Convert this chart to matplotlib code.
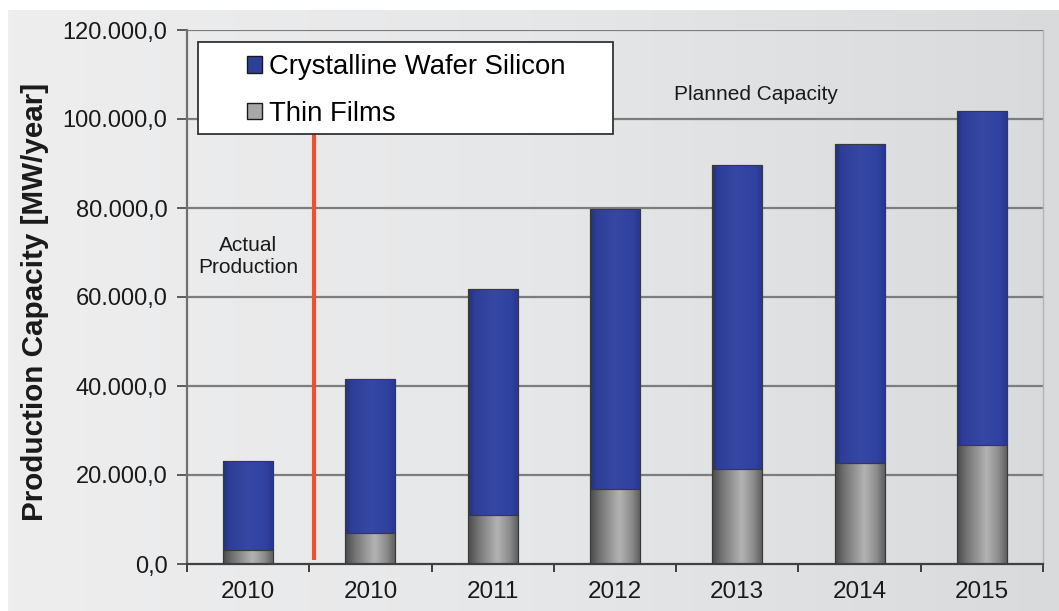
import numpy as np
import matplotlib
matplotlib.use('Agg')
from matplotlib import pyplot as plt
from matplotlib.patches import Patch, Rectangle
from matplotlib.colors import LinearSegmentedColormap
from matplotlib.ticker import FuncFormatter, FixedLocator

plt.rcParams['font.family'] = ['Liberation Sans', 'DejaVu Sans']

# data (MW/year)
categories = ['2010', '2010', '2011', '2012', '2013', '2014', '2015']
thin_films = [3100, 7000, 11000, 16900, 21300, 22700, 26700]
crystalline = [20000, 34600, 50800, 62900, 68400, 71700, 75100]
series_names = ['Crystalline Wafer Silicon', 'Thin Films']
y_ticks = [0, 20000, 40000, 60000, 80000, 100000, 120000]

W, H = 1059, 611
fig = plt.figure(figsize=(W/100, H/100), dpi=100, facecolor='white')

# light grey gradient panel behind everything
bg = fig.add_axes([8/W, 0, 1 - 8/W, 1 - 10/H], zorder=-1)
bgCmap = LinearSegmentedColormap.from_list('bg', ['#eeeeef', '#e6e7e8', '#d9dadb'])
bg.imshow(np.linspace(0, 1, 256)[None, :], cmap=bgCmap, aspect='auto', extent=(0, 1, 0, 1))
bg.axis('off')

ax = fig.add_axes([187/W, 1 - 564/H, (1043-187)/W, (564-30)/H])
ax.set_facecolor('none')

x = np.arange(len(categories))
barW = 0.41
grayCmap = LinearSegmentedColormap.from_list('g', [(0, '#4a4a4a'), (0.2, '#757575'), (0.58, '#b3b3b3'),
                                                   (0.82, '#8c8c8c'), (1, '#5a5a5a')])
blueCmap = LinearSegmentedColormap.from_list('b', [(0, '#22307a'), (0.12, '#2e3e98'), (0.5, '#3648a4'),
                                                   (0.85, '#3041a0'), (1, '#27358a')])

def shadeBars(bars, cmap):
    grad = np.linspace(0, 1, 128)[None, :]
    for p in bars:
        x0, y0 = p.get_x(), p.get_y()
        im = ax.imshow(grad, cmap=cmap, aspect='auto', interpolation='bilinear',
                       extent=(x0, x0 + p.get_width(), y0, y0 + p.get_height()), zorder=2)
        im.set_clip_path(p)

tf = ax.bar(x, thin_films, barW, color='#a0a0a0', edgecolor='#3c3c3c', linewidth=0.8, zorder=2)
cs = ax.bar(x, crystalline, barW, bottom=thin_films, color='#3143a0', edgecolor='#2a2a40',
            linewidth=0.8, zorder=2)
shadeBars(tf, grayCmap)
shadeBars(cs, blueCmap)
# redraw outlines on top of the shading
for p in list(tf) + list(cs):
    ax.add_patch(Rectangle((p.get_x(), p.get_y()), p.get_width(), p.get_height(),
                           fill=False, edgecolor='#3a3a3a', linewidth=0.8, zorder=3))

ax.set_xlim(-0.5, len(categories) - 0.5)
ax.set_ylim(0, 120000)

# grid
for v in y_ticks[1:]:
    ax.axhline(v, color='#7d7d7d', linewidth=1.6, zorder=1)

# separator between actual and planned
ax.plot([0.54, 0.54], [900, 100000], color='#f0502c', linewidth=3, zorder=4, solid_capstyle='butt')

ax.text(0.0, 69000, 'Actual\nProduction', ha='center', va='center', fontsize=15,
        color='#1a1a1a', linespacing=1.2)
ax.text(4.15, 105400, 'Planned Capacity', ha='center', va='center', fontsize=15, color='#1a1a1a')

ax.yaxis.set_major_locator(FixedLocator(y_ticks))
ax.yaxis.set_major_formatter(FuncFormatter(lambda v, p: f'{v:,.1f}'.replace(',', 'X').replace('.', ',').replace('X', '.')))
ax.set_xticks(x)
ax.set_xticklabels(categories)
ax.set_xticks(np.arange(len(categories) + 1) - 0.5, minor=True)
ax.tick_params(axis='x', which='major', length=0, pad=12, labelsize=17.5, labelcolor='#1a1a1a')
ax.tick_params(axis='x', which='minor', length=6, width=1.3, color='#303030', direction='out')
ax.tick_params(axis='y', length=7, width=1.3, color='#505050', pad=7, labelsize=17, labelcolor='#1a1a1a')

ax.spines['top'].set_visible(False)
ax.spines['right'].set_color('#b4b4b4')
ax.spines['right'].set_linewidth(1.0)
ax.spines['left'].set_color('#707070')
ax.spines['left'].set_linewidth(1.6)
ax.spines['bottom'].set_color('#404040')
ax.spines['bottom'].set_linewidth(1.6)

fig.text(35/W, 1 - 302/H, 'Production Capacity [MW/year]', rotation=90, ha='center', va='center',
         fontsize=21.3, fontweight='bold', color='#1a1a1a')

# legend box
fig.add_artist(Rectangle((198/W, 1 - 134/H), (613-198)/W, (134-42)/H, transform=fig.transFigure,
                         facecolor='white', edgecolor='#333333', linewidth=1.3, zorder=5))
handles = [Patch(facecolor='#2e3f9a', edgecolor='#1a1a1a', linewidth=1.0),
           Patch(facecolor='#a8a8a8', edgecolor='#1a1a1a', linewidth=1.0)]
fig.legend(handles, series_names, loc='upper left', bbox_to_anchor=(247/W, 1 - 54/H),
           frameon=False, borderpad=0, borderaxespad=0, fontsize=19.8, handlelength=0.55,
           handleheight=0.55, handletextpad=0.25, labelspacing=0.75).set_zorder(6)

fig.savefig('out.png', dpi=100)
